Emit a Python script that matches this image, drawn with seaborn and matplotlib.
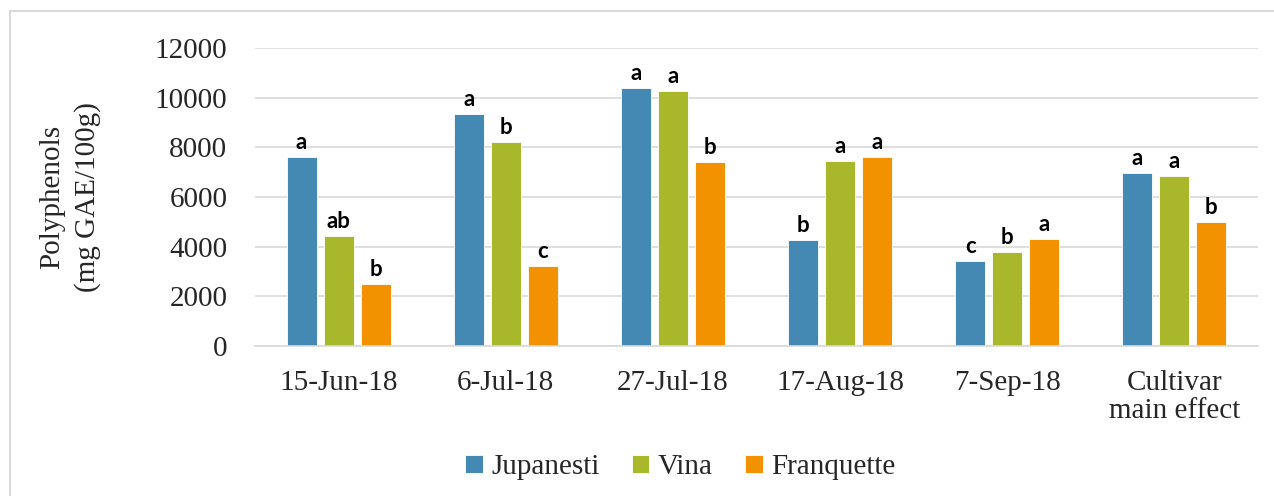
import seaborn as sns
import matplotlib.pyplot as plt
import pandas as pd
from matplotlib.patches import Rectangle

# data
dates = ["15-Jun-18", "6-Jul-18", "27-Jul-18", "17-Aug-18", "7-Sep-18", "Cultivar\nmain effect"]
cultivars = ["Jupanesti", "Vina", "Franquette"]
jupanesti = [7620, 9330, 10390, 4270, 3410, 6980]
vina = [4430, 8220, 10260, 7440, 3790, 6850]
franquette = [2500, 3230, 7400, 7620, 4300, 4990]
letters = {
    "Jupanesti": ["a", "a", "a", "b", "c", "a"],
    "Vina": ["ab", "b", "a", "a", "b", "a"],
    "Franquette": ["b", "c", "b", "a", "a", "b"],
}
colors = ["#4389B4", "#A8B82A", "#F39200"]

df = pd.DataFrame({
    "Date": dates * 3,
    "Cultivar": [c for c in cultivars for _ in dates],
    "Value": jupanesti + vina + franquette,
})

sns.set_style("white")
plt.rcParams["font.family"] = ["Liberation Serif", "DejaVu Serif"]

fig = plt.figure(figsize=(12.74, 4.96), dpi=100)
ax = fig.add_axes([0.2002, 0.3024, 0.7872, 0.6008])

sns.barplot(
    data=df, x="Date", y="Value", hue="Cultivar",
    order=dates, hue_order=cultivars, palette=colors,
    width=0.665, gap=0.19, saturation=1, edgecolor="white", linewidth=0.6,
    ax=ax,
)

# significance letters
for container, cv in zip(ax.containers, cultivars):
    ax.bar_label(container, labels=letters[cv], padding=3,
                 fontsize=16, fontweight="bold", family="Lato", color="black")

ax.set_ylim(0, 12000)
ax.set_xlim(-0.5, 5.5)
ax.set_yticks(range(0, 12001, 2000))
ax.yaxis.grid(True, color="#D9D9D9", linewidth=1.2)
ax.set_axisbelow(True)
for s in ["top", "right", "left"]:
    ax.spines[s].set_visible(False)
ax.spines["bottom"].set_color("#D9D9D9")
ax.spines["bottom"].set_linewidth(1.2)
ax.tick_params(axis="y", length=0, pad=20, labelsize=21)
ax.tick_params(axis="x", length=0, pad=17, labelsize=21)
for t in ax.get_xticklabels():
    t.set_linespacing(1.1)
ax.set_xlabel("")
ax.set_ylabel("")
fig.text(70 / 1274, 1 - 197 / 496, "Polyphenols\n(mg GAE/100g)", rotation=90,
         ha="center", va="center", fontsize=21, linespacing=1.45, multialignment="center")

handles, labels = ax.get_legend_handles_labels()
ax.legend_.remove()
fig.legend(handles, labels, loc="center", bbox_to_anchor=(0.534, 0.058),
           ncol=3, frameon=False, fontsize=21, handlelength=0.6,
           handleheight=0.6, handletextpad=0.3, columnspacing=1.1)

# light chart border
fig.patches.append(Rectangle((10 / 1274, -0.01), 1.1, 0.988, transform=fig.transFigure,
                             fill=False, edgecolor="#D9D9D9", linewidth=1.5))

plt.savefig("out.png", dpi=100)
plt.close()
